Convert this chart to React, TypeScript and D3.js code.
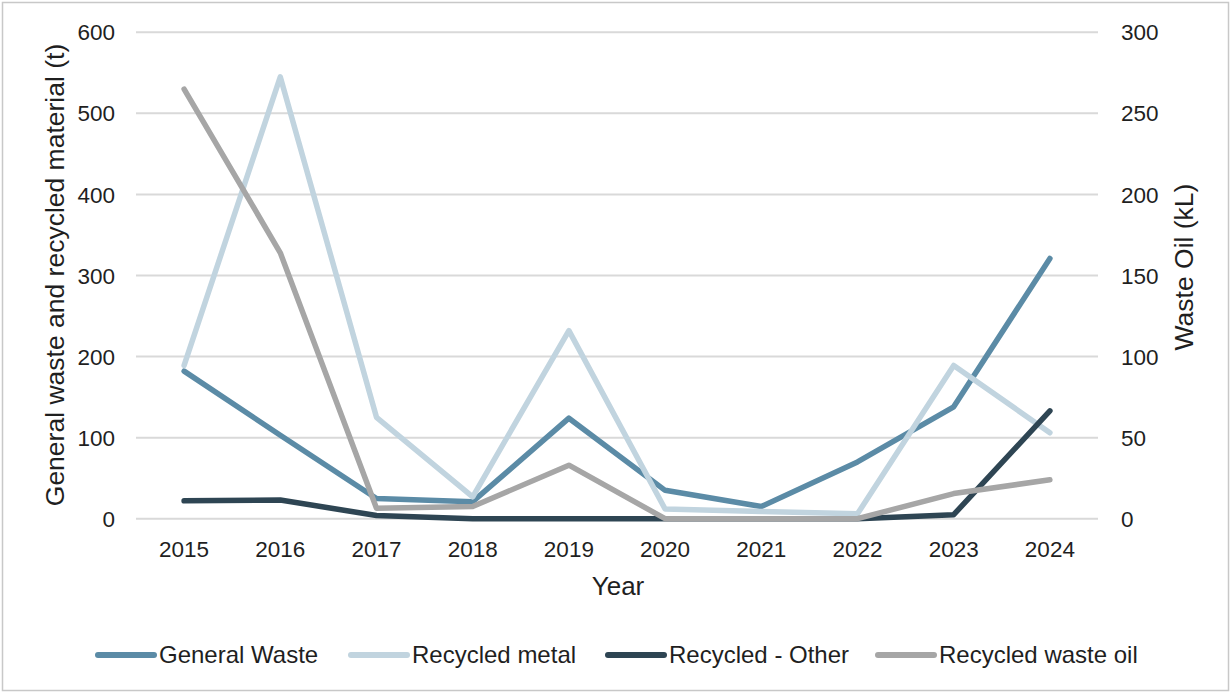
import React from "react";
import * as d3 from "d3";

const years = ["2015", "2016", "2017", "2018", "2019", "2020", "2021", "2022", "2023", "2024"];
const generalWaste = [182, 103, 25, 21, 124, 35, 15, 70, 138, 321];
const recycledMetal = [189, 545, 125, 27, 232, 12, 9, 6, 189, 106];
const recycledOther = [22, 23, 4, 0, 0, 0, 0, 0, 5, 133];
const recycledWasteOil = [265, 164, 6.5, 7.5, 33, 0, 0, 0, 15.5, 24];
const leftTicks = [0, 100, 200, 300, 400, 500, 600];
const rightTicks = [0, 50, 100, 150, 200, 250, 300];

const W = 1231;
const H = 693;
const plot = { left: 136, right: 1098, top: 32.3, bottom: 518.7 };
const FONT = "'Liberation Sans', Arial, sans-serif";
const TXT = "#1f1f1f";

export default function App() {
  const x = d3.scaleBand<string>().domain(years).range([plot.left, plot.right]);
  const yL = d3.scaleLinear().domain([0, 600]).range([plot.bottom, plot.top]);
  const yR = d3.scaleLinear().domain([0, 300]).range([plot.bottom, plot.top]);
  const cx = (i: number) => (x(years[i]) as number) + x.bandwidth() / 2;

  const series = [
    { name: "General Waste", data: generalWaste, color: "#5b8ba6", y: yL },
    { name: "Recycled metal", data: recycledMetal, color: "#c1d4df", y: yL },
    { name: "Recycled - Other", data: recycledOther, color: "#2e4553", y: yL },
    { name: "Recycled waste oil", data: recycledWasteOil, color: "#a6a6a6", y: yR },
  ];
  const legendX = [98, 351, 608, 878];

  return (
    <svg width={W} height={H} style={{ position: "absolute", left: 0, top: 0, background: "#fff" }} fontFamily={FONT}>
      <rect x={2.5} y={2.5} width={W - 5} height={H - 5} fill="#fff" stroke="#c8c8c8" strokeWidth={1.5} />
      {leftTicks.map((t) => (
        <line key={t} x1={plot.left} x2={plot.right} y1={yL(t)} y2={yL(t)} stroke="#d9d9d9" strokeWidth={2} />
      ))}
      {leftTicks.map((t) => (
        <text key={"l" + t} x={115} y={yL(t)} dy="0.36em" textAnchor="end" fontSize={22.5} fill={TXT}>{t}</text>
      ))}
      {rightTicks.map((t) => (
        <text key={"r" + t} x={1121} y={yR(t)} dy="0.36em" textAnchor="start" fontSize={22.5} fill={TXT}>{t}</text>
      ))}
      {years.map((yr, i) => (
        <text key={yr} x={cx(i)} y={557} textAnchor="middle" fontSize={22.5} fill={TXT}>{yr}</text>
      ))}
      <text x={618} y={595} textAnchor="middle" fontSize={26} fill={TXT}>Year</text>
      <text transform={`translate(64,275) rotate(-90)`} textAnchor="middle" fontSize={26.5} fill={TXT}>
        General waste and recycled material (t)
      </text>
      <text transform={`translate(1193,267) rotate(-90)`} textAnchor="middle" fontSize={26.5} fill={TXT}>
        Waste Oil (kL)
      </text>
      {series.map((s) => {
        const line = d3.line<number>().x((_, i) => cx(i)).y((v) => s.y(v));
        return (
          <path key={s.name} d={line(s.data) || ""} fill="none" stroke={s.color} strokeWidth={5.5} strokeLinejoin="round" strokeLinecap="round" />
        );
      })}
      {series.map((s, i) => (
        <g key={"lg" + s.name} transform={`translate(${legendX[i]},655)`}>
          <line x1={0} x2={56} y1={0} y2={0} stroke={s.color} strokeWidth={6} strokeLinecap="round" />
          <text x={61} y={8} fontSize={24} fill={TXT}>{s.name}</text>
        </g>
      ))}
    </svg>
  );
}
